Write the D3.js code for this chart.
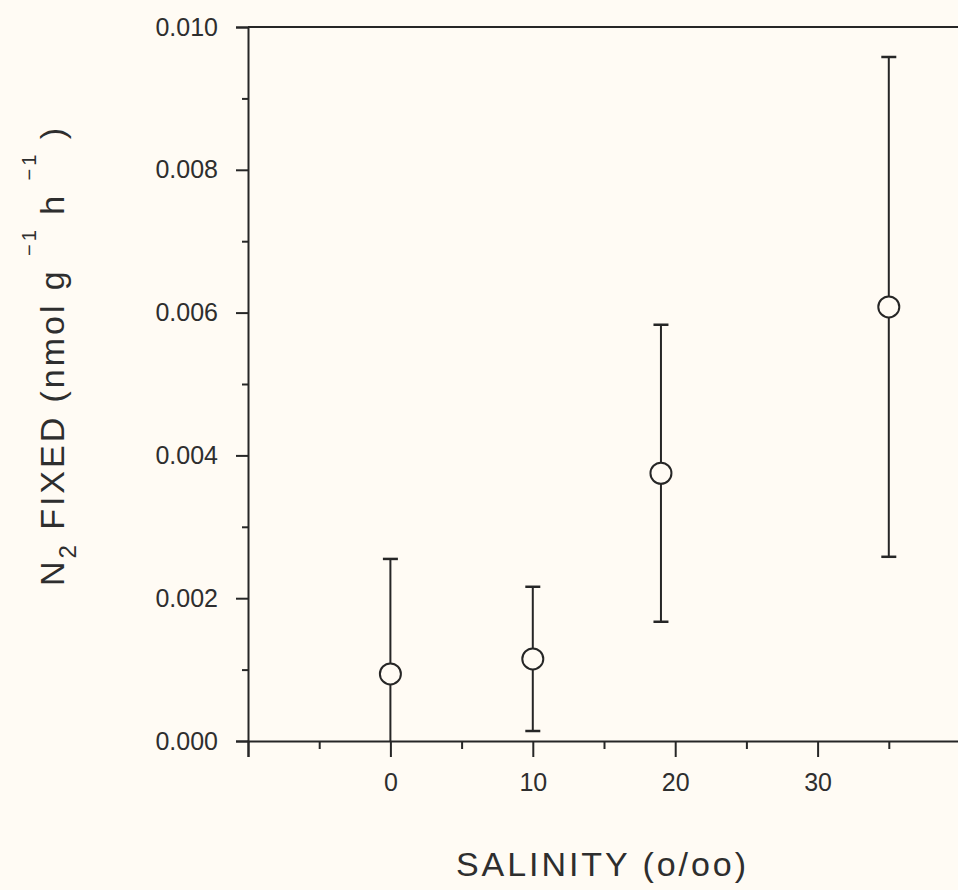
<!DOCTYPE html>
<html><head><meta charset="utf-8">
<script src="https://cdn.jsdelivr.net/npm/d3@7"></script>
<style>
html,body{margin:0;padding:0;background:#fffbf4;}
svg{display:block;}
text{font-family:"Liberation Sans","DejaVu Sans",sans-serif;fill:#2e2e2e;}
</style></head>
<body>
<script>
// Data
const salinity = [0, 10, 19, 35];
const n2Fixed = [0.00094, 0.00115, 0.00375, 0.00608];
const n2SD = [0.00161, 0.00101, 0.00208, 0.00350];
const yTicks = [0, 0.002, 0.004, 0.006, 0.008, 0.010];
const yMinorTicks = [0.001, 0.003, 0.005, 0.007, 0.009];
const xTicks = [-10, 0, 10, 20, 30, 40];
const xMinorTicks = [-5, 5, 15, 25, 35];
const xTickLabels = ["", "0", "10", "20", "30", ""];
const xTitle = "SALINITY (o/oo)";

const W = 958, H = 890;
const svg = d3.select("body").append("svg").attr("width", W).attr("height", H);
const ink = "#262626";
const FONT = '"Liberation Sans","DejaVu Sans",sans-serif';

const x = d3.scaleLinear().domain([-10, 40]).range([248, 960]);
const y = d3.scaleLinear().domain([0, 0.010]).range([741, 27]);

svg.append("defs").append("clipPath").attr("id", "plot")
  .append("rect").attr("x", x(-10)).attr("y", y(0.010) - 20)
  .attr("width", x(40) - x(-10)).attr("height", y(0) - y(0.010) + 20);

// Top border
svg.append("line").attr("x1", x(-10)).attr("x2", x(40))
  .attr("y1", y(0.010)).attr("y2", y(0.010))
  .attr("stroke", ink).attr("stroke-width", 2);

// Y axis
const yAxis = d3.axisLeft(y).tickValues(yTicks).tickFormat(d3.format(".3f"))
  .tickSize(12).tickPadding(18);
const gy = svg.append("g").attr("transform", `translate(${x(-10)},0)`).call(yAxis);
gy.select(".domain").attr("stroke", ink).attr("stroke-width", 2);
gy.selectAll(".tick line").attr("stroke", ink).attr("stroke-width", 2);
gy.selectAll(".tick text").attr("font-size", 25).style("font-family", FONT).attr("fill", "#2e2e2e");
const yAxisMinor = d3.axisLeft(y).tickValues(yMinorTicks).tickFormat("").tickSize(6);
const gym = svg.append("g").attr("transform", `translate(${x(-10)},0)`).call(yAxisMinor);
gym.select(".domain").remove();
gym.selectAll(".tick line").attr("stroke", ink).attr("stroke-width", 2);

// X axis
const xAxis = d3.axisBottom(x).tickValues(xTicks).tickFormat((d, i) => xTickLabels[i])
  .tickSize(16).tickPadding(16);
const gx = svg.append("g").attr("transform", `translate(0,${y(0)})`).call(xAxis);
gx.select(".domain").attr("stroke", ink).attr("stroke-width", 2);
gx.selectAll(".tick line").attr("stroke", ink).attr("stroke-width", 2);
gx.selectAll(".tick text").attr("font-size", 25).style("font-family", FONT).attr("fill", "#2e2e2e");
const xAxisMinor = d3.axisBottom(x).tickValues(xMinorTicks).tickFormat("").tickSize(8);
const gxm = svg.append("g").attr("transform", `translate(0,${y(0)})`).call(xAxisMinor);
gxm.select(".domain").remove();
gxm.selectAll(".tick line").attr("stroke", ink).attr("stroke-width", 2);

// Error bars
const data = salinity.map((s, i) => ({s, v: n2Fixed[i], sd: n2SD[i]}));
const eb = svg.append("g").attr("clip-path", "url(#plot)");
const capW = 7.5;
data.forEach(d => {
  const lo = d.v - d.sd, hi = d.v + d.sd;
  eb.append("line").attr("x1", x(d.s)).attr("x2", x(d.s))
    .attr("y1", y(lo)).attr("y2", y(hi)).attr("stroke", ink).attr("stroke-width", 2);
  [lo, hi].forEach(e => {
    eb.append("line").attr("x1", x(d.s) - capW).attr("x2", x(d.s) + capW)
      .attr("y1", y(e)).attr("y2", y(e)).attr("stroke", ink).attr("stroke-width", 2.5);
  });
});
// Points
svg.append("g").selectAll("circle").data(data).join("circle")
  .attr("cx", d => x(d.s)).attr("cy", d => y(d.v)).attr("r", 10.5)
  .attr("fill", "#fffbf4").attr("stroke", ink).attr("stroke-width", 2);

// X title
svg.append("text").attr("x", 456).attr("y", 876)
  .attr("font-size", 34).attr("textLength", 290).attr("lengthAdjust", "spacing")
  .text(xTitle);

// Y title
const yt = svg.append("text").attr("transform", "translate(64,586) rotate(-90)")
  .attr("font-size", 34).attr("textLength", 458).attr("lengthAdjust", "spacing");
yt.append("tspan").text("N");
yt.append("tspan").attr("dy", 12).attr("font-size", 24).text("2");
yt.append("tspan").attr("dy", -12).text(" FIXED (nmol g  ");
yt.append("tspan").attr("dy", -28).attr("font-size", 20).text("\u22121");
yt.append("tspan").attr("dy", 28).text("  h  ");
yt.append("tspan").attr("dy", -28).attr("font-size", 20).text("\u22121");
yt.append("tspan").attr("dy", 28).text("  )");
</script>
</body></html>
